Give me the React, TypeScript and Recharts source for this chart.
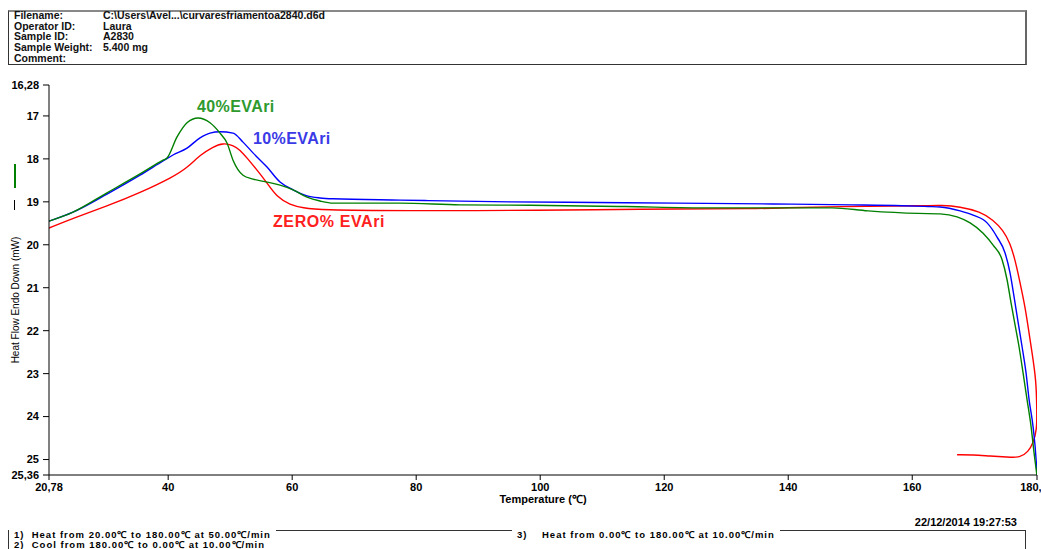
import { LineChart, Line, XAxis, YAxis } from "recharts";

// [temperature °C, heat flow mW]
const evari40: [number, number][] = [
  [20.78, 19.45], [24.65, 19.24], [30.13, 18.79], [35.46, 18.35], [39.17, 18.03],
  [39.81, 17.98], [41.43, 17.49], [43.04, 17.16], [44.81, 17.05], [46.75, 17.16],
  [48.36, 17.4], [49.49, 17.63], [50.46, 18.03], [52.07, 18.38], [53.68, 18.47],
  [55.94, 18.54], [58.04, 18.61], [60.14, 18.72], [62.39, 18.89], [64.49, 18.98],
  [66.59, 19.03], [77.39, 19.03], [87.07, 19.07], [98.36, 19.08], [113.68, 19.11],
  [127.39, 19.14], [147.07, 19.14], [152.88, 19.21], [160.94, 19.27], [164.49, 19.28],
  [167.23, 19.35], [169.33, 19.49], [171.43, 19.73], [173.04, 20.01], [174.49, 20.35],
  [175.3, 20.82], [175.94, 21.36], [176.59, 21.87], [177.23, 22.38], [177.88, 22.99],
  [178.52, 23.61], [179.17, 24.24], [179.65, 24.85], [180.1, 25.36],
];

const evari10: [number, number][] = [
  [20.78, 19.45], [24.65, 19.24], [30.13, 18.82], [35.46, 18.38], [39.17, 18.05],
  [40.78, 17.91], [43.04, 17.75], [45.14, 17.51], [46.75, 17.4], [48.36, 17.37],
  [50.46, 17.4], [52.07, 17.61], [53.68, 17.86], [55.94, 18.19], [58.04, 18.54],
  [60.14, 18.72], [62.39, 18.86], [64.49, 18.91], [66.59, 18.93], [77.39, 18.96],
  [81.43, 18.97], [95.13, 19.0], [113.68, 19.02], [137.55, 19.05], [150.29, 19.07],
  [158.36, 19.09], [162.56, 19.11], [164.49, 19.12], [167.72, 19.21], [169.81, 19.31],
  [172.07, 19.49], [173.68, 19.82], [174.97, 20.19], [175.78, 20.66], [176.43, 21.22],
  [177.07, 21.8], [177.72, 22.38], [178.36, 22.99], [178.85, 23.61], [179.49, 24.24],
  [179.98, 25.01], [180.1, 25.31],
];

const evari0: [number, number][] = [
  [20.78, 19.61], [24.65, 19.38], [30.13, 19.1], [35.46, 18.79], [40.78, 18.42],
  [43.04, 18.21], [45.14, 17.91], [47.23, 17.72], [48.84, 17.63], [50.46, 17.68],
  [51.59, 17.79], [52.72, 17.98], [54.33, 18.26], [55.94, 18.56], [57.55, 18.89],
  [59.65, 19.07], [61.75, 19.14], [64.49, 19.19], [77.39, 19.21], [101.1, 19.2],
  [114.81, 19.17], [136.75, 19.16], [138.69, 19.14], [147.56, 19.11], [162.88, 19.09],
  [164.49, 19.08], [167.72, 19.11], [170.94, 19.23], [173.04, 19.42], [174.65, 19.66],
  [175.78, 19.96], [176.59, 20.35], [177.4, 20.89], [178.2, 21.45], [178.69, 21.91],
  [179.33, 22.52], [179.98, 23.15], [180.1, 23.85], [180.1, 24.31], [179.49, 24.62],
  [178.69, 24.82], [177.4, 24.96], [175.3, 24.94], [172.56, 24.92], [169.81, 24.89],
  [167.23, 24.89],
];

const xTicks = [20.78, 40, 60, 80, 100, 120, 140, 160, 180.12];
const yTicks = [16.28, 17, 18, 19, 20, 21, 22, 23, 24, 25, 25.36];

const headerLabels = ["Filename:", "Operator ID:", "Sample ID:", "Sample Weight:", "Comment:"];
const headerValues = ["C:\\Users\\Avel...\\curvaresfriamentoa2840.d6d", "Laura", "A2830", "5.400 mg", ""];

const toRows = (pts: [number, number][]) => pts.map(([t, v]) => ({ t, v }));

const fmt = (v: number) => {
  if (Number.isInteger(v)) return String(v);
  return v.toFixed(2).replace(".", ",");
};

const narrow = '"Liberation Sans Narrow", "Arial Narrow", "Liberation Sans", Arial, sans-serif';
const sans = '"Liberation Sans", Arial, sans-serif';

const footText = { position: "absolute" as const, fontFamily: narrow, fontSize: 9.5, fontWeight: 700, letterSpacing: 1, color: "#000", whiteSpace: "pre" as const, lineHeight: "9px" };

export default function App() {
  return (
    <div style={{ position: "absolute", left: 0, top: 0, width: 1041, height: 549, background: "#fff", overflow: "hidden" }}>
      {/* header box */}
      <div style={{ position: "absolute", left: 8, top: 10, width: 1016, height: 52, borderLeft: "1px solid #333", borderBottom: "1px solid #333", borderTop: "2px solid #888", borderRight: "2px solid #666" }} />
      {headerLabels.map((l, i) => (
        <div key={l} style={{ position: "absolute", left: 14, top: 10 + i * 10.7, fontFamily: sans, fontSize: 10.5, fontWeight: 700, color: "#111", lineHeight: "11px", whiteSpace: "pre" }}>
          {l}
        </div>
      ))}
      {headerValues.map((v, i) => (
        <div key={i} style={{ position: "absolute", left: 103, top: 10 + i * 10.7, fontFamily: sans, fontSize: 10.5, fontWeight: 700, color: "#111", lineHeight: "11px", whiteSpace: "pre" }}>
          {v}
        </div>
      ))}

      <div style={{ position: "absolute", left: 0, top: 0 }}>
        <LineChart width={1041} height={549} margin={{ top: 85, right: 4, bottom: 44, left: 9 }}>
          <XAxis
            dataKey="t"
            type="number"
            domain={[20.78, 180.12]}
            ticks={xTicks}
            tickFormatter={fmt}
            interval={0}
            allowDataOverflow
            height={30}
            tickSize={5}
            tickMargin={3}
            stroke="#000"
            tick={{ fill: "#000", fontSize: 11, fontWeight: 700, fontFamily: narrow }}
          />
          <YAxis
            type="number"
            domain={[16.28, 25.36]}
            reversed
            ticks={yTicks}
            tickFormatter={fmt}
            interval={0}
            allowDataOverflow
            width={40}
            tickSize={6}
            tickMargin={4}
            stroke="#000"
            tick={{ fill: "#000", fontSize: 11, fontWeight: 700, fontFamily: narrow }}
          />
          <Line data={toRows(evari0)} dataKey="v" type="basis" stroke="#ff0000" strokeWidth={1.4} dot={false} isAnimationActive={false} />
          <Line data={toRows(evari10)} dataKey="v" type="monotone" stroke="#0000ff" strokeWidth={1.4} dot={false} isAnimationActive={false} />
          <Line data={toRows(evari40)} dataKey="v" type="monotone" stroke="#008000" strokeWidth={1.4} dot={false} isAnimationActive={false} />
        </LineChart>
      </div>

      {/* curve labels */}
      <div style={{ position: "absolute", left: 197, top: 98, fontFamily: sans, fontSize: 16, fontWeight: 700, letterSpacing: 0.4, color: "#2e9a2e" }}>40%EVAri</div>
      <div style={{ position: "absolute", left: 253, top: 130, fontFamily: sans, fontSize: 16, fontWeight: 700, letterSpacing: 0.4, color: "#3a3ae6" }}>10%EVAri</div>
      <div style={{ position: "absolute", left: 273, top: 213, fontFamily: sans, fontSize: 16, fontWeight: 700, letterSpacing: 0.6, color: "#ff2020" }}>ZERO% EVAri</div>

      {/* y axis title with legend marks */}
      <div style={{ position: "absolute", left: 15, top: 300, transform: "translate(-50%, -50%) rotate(-90deg)", fontFamily: narrow, fontSize: 10, color: "#000", whiteSpace: "nowrap" }}>
        Heat Flow Endo Down (mW)
      </div>
      <div style={{ position: "absolute", left: 14, top: 200, width: 1, height: 10, background: "#000" }} />
      <div style={{ position: "absolute", left: 14, top: 164, width: 1.5, height: 24, background: "#008000" }} />

      <div style={{ position: "absolute", left: 543, top: 491, transform: "translateX(-50%)", fontFamily: narrow, fontSize: 11, fontWeight: 700, color: "#000", whiteSpace: "nowrap" }}>
        Temperature (℃)
      </div>

      {/* footer */}
      <div style={{ position: "absolute", right: 24, top: 516, fontFamily: narrow, fontSize: 11, fontWeight: 700, color: "#000" }}>22/12/2014 19:27:53</div>
      <div style={{ position: "absolute", left: 8, top: 530, width: 1, height: 19, background: "#333" }} />
      <div style={{ position: "absolute", left: 276, top: 530, width: 236, height: 1, background: "#333" }} />
      <div style={{ position: "absolute", left: 780, top: 530, width: 246, height: 1, background: "#333" }} />
      <div style={{ position: "absolute", left: 1025, top: 530, width: 1, height: 19, background: "#333" }} />
      <div style={{ ...footText, left: 14, top: 530 }}>{"1)  Heat from 20.00℃ to 180.00℃ at 50.00℃/min"}</div>
      <div style={{ ...footText, left: 14, top: 540 }}>{"2)  Cool from 180.00℃ to 0.00℃ at 10.00℃/min"}</div>
      <div style={{ ...footText, left: 517, top: 530 }}>{"3)    Heat from 0.00℃ to 180.00℃ at 10.00℃/min"}</div>
    </div>
  );
}
